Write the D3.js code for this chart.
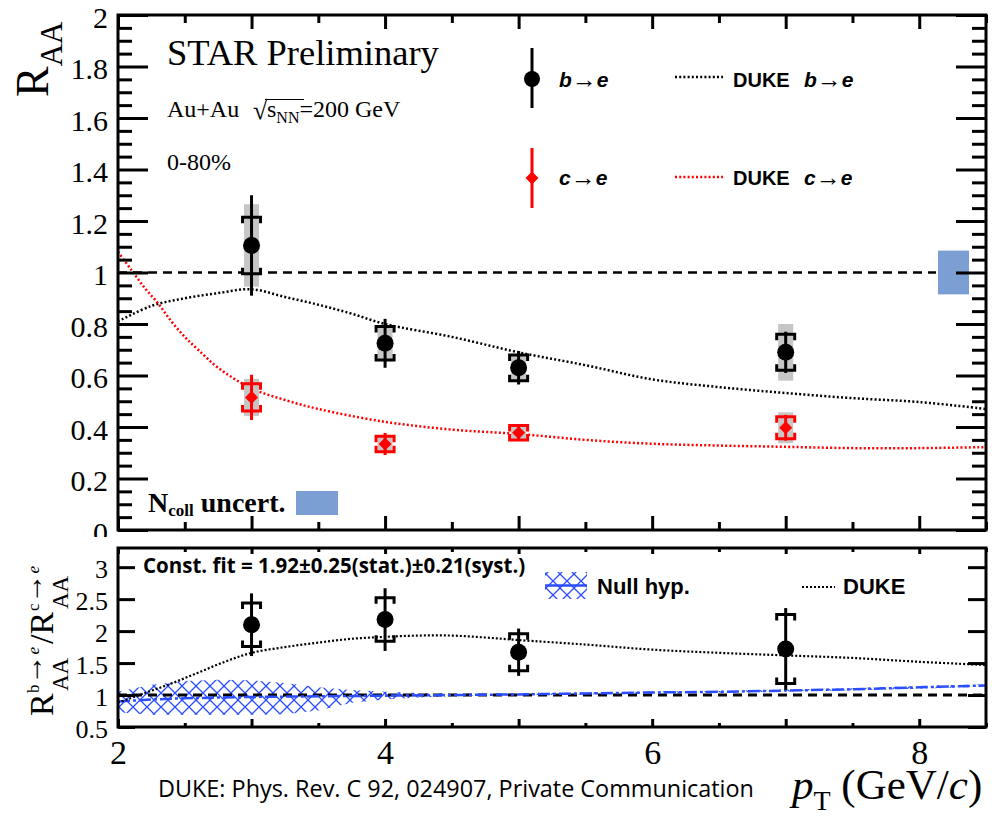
<!DOCTYPE html>
<html><head><meta charset="utf-8">
<script src="https://cdn.jsdelivr.net/npm/d3@7"></script>
<style>body{margin:0;background:#fff}svg{display:block}</style>
</head><body>
<script>
// ---------------- data ----------------
const pT = [3, 4, 5, 7];
const bRaa = [1.105, 0.725, 0.63, 0.69];
const bStat = [0.195, 0.095, 0.065, 0.08];
const bSyst = [0.11, 0.065, 0.05, 0.07];
const bGlobal = [0.16, 0.07, 0.05, 0.11];
const cRaa = [0.515, 0.334, 0.378, 0.397];
const cStat = [0.088, 0.043, 0.03, 0.05];
const cSyst = [0.053, 0.03, 0.028, 0.043];
const cGlobal = [0.072, 0.03, 0.028, 0.06];
const ratio = [2.10, 2.18, 1.67, 1.72];
const ratioStat = [0.49, 0.49, 0.37, 0.64];
const ratioSyst = [0.34, 0.34, 0.29, 0.54];
const ncollUnc = 0.085;

const dukeBPt = [2.0, 2.25, 2.5, 2.75, 3.0, 3.25, 3.5, 3.75, 4.0, 4.5, 5.0, 5.5, 6.0, 6.5, 7.0, 7.5, 8.0, 8.5];
const dukeB = [0.81, 0.87, 0.90, 0.92, 0.935, 0.905, 0.875, 0.84, 0.80, 0.75, 0.69, 0.64, 0.585, 0.555, 0.532, 0.512, 0.497, 0.47];
const dukeCPt = [2.0, 2.1, 2.2, 2.3, 2.4, 2.5, 2.6, 2.75, 3.0, 3.25, 3.5, 4.0, 4.5, 5.0, 5.5, 6.0, 6.5, 7.0, 7.5, 8.0, 8.5];
const dukeC = [1.08, 1.01, 0.94, 0.88, 0.81, 0.75, 0.70, 0.63, 0.55, 0.505, 0.47, 0.42, 0.39, 0.373, 0.35, 0.335, 0.328, 0.323, 0.318, 0.318, 0.322];
const dukeRPt = [2.0, 2.2, 2.4, 2.6, 2.8, 3.0, 3.25, 3.5, 3.75, 4.0, 4.25, 4.5, 4.75, 5.0, 5.5, 6.0, 6.5, 7.0, 7.5, 8.0, 8.5];
const dukeR = [0.88, 1.03, 1.18, 1.35, 1.52, 1.66, 1.75, 1.82, 1.88, 1.91, 1.93, 1.93, 1.90, 1.86, 1.79, 1.71, 1.66, 1.62, 1.58, 1.52, 1.47];

const nullPt = [2.0, 2.25, 2.5, 2.75, 3.0, 3.25, 3.5, 3.75, 4.0, 4.25, 4.5, 5.0, 5.5, 6.0, 6.5, 7.0, 7.5, 8.0, 8.5];
const nullCen = [0.90, 0.93, 0.95, 0.96, 0.97, 0.975, 0.98, 0.985, 0.99, 0.995, 1.0, 1.01, 1.025, 1.04, 1.05, 1.07, 1.09, 1.12, 1.15];
const nullLo = [0.73, 0.69, 0.69, 0.69, 0.69, 0.70, 0.76, 0.88, 0.93, 0.96, 0.98, 0.995, 1.01, 1.025, 1.035, 1.055, 1.075, 1.10, 1.13];
const nullHi = [1.05, 1.16, 1.22, 1.24, 1.23, 1.19, 1.12, 1.08, 1.05, 1.03, 1.02, 1.025, 1.04, 1.055, 1.065, 1.085, 1.105, 1.14, 1.17];

const yTopMajor = [0, 0.2, 0.4, 0.6, 0.8, 1, 1.2, 1.4, 1.6, 1.8, 2];
const yTopLabels = ["0", "0.2", "0.4", "0.6", "0.8", "1", "1.2", "1.4", "1.6", "1.8", "2"];
const yBotMajor = [0.5, 1, 1.5, 2, 2.5, 3];
const yBotLabels = ["0.5", "1", "1.5", "2", "2.5", "3"];
const xMajor = [2, 3, 4, 5, 6, 7, 8];
const xMinor = [2.5, 3.5, 4.5, 5.5, 6.5, 7.5, 8.5];
const xLabelVals = [2, 4, 6, 8];
const xLabels = ["2", "4", "6", "8"];

// ---------------- setup ----------------
const W = 992, H = 817;
const svg = d3.select('body').append('svg').attr('width', W).attr('height', H);
svg.append('rect').attr('width', W).attr('height', H).attr('fill', '#fff');

const SERIF = 'Liberation Serif, Times New Roman, serif';
const SANS = 'Liberation Sans, Arial, sans-serif';
const CAL = 'Open Sans, Lato, sans-serif';
const RED = '#ff0000', BLUE_BOX = '#7b9fd3', HATCH = '#2a4dff', GREY = '#c6c6c6';

const x = d3.scaleLinear().domain([2, 8.5]).range([118, 986]);
const yT = d3.scaleLinear().domain([0, 2]).range([530, 15]);
const yB = d3.scaleLinear().domain([0.5, 3.3]).range([727, 548]);

const defs = svg.append('defs');
const pat = defs.append('pattern').attr('id', 'hatch').attr('patternUnits', 'userSpaceOnUse')
  .attr('width', 14).attr('height', 14);
pat.append('path').attr('d', 'M0,0L14,14M14,0L0,14').attr('stroke', HATCH).attr('stroke-width', 1.3).attr('fill', 'none');
defs.append('clipPath').attr('id', 'clipTop').append('rect').attr('x', 118).attr('y', 15).attr('width', 868).attr('height', 515);
defs.append('clipPath').attr('id', 'clipBot').append('rect').attr('x', 118).attr('y', 548).attr('width', 868).attr('height', 179);

function styleAxis(g, fs) {
  g.select('.domain').remove();
  g.selectAll('.tick line').attr('stroke', '#000').attr('stroke-width', 3);
  g.selectAll('.tick text').attr('font-family', SERIF).attr('font-size', fs || 10).attr('fill', '#000');
}
const diamond = d3.symbol(d3.symbolSquare, 85);

// ================= TOP PANEL =================
const topG = svg.append('g');
const topPlot = topG.append('g').attr('clip-path', 'url(#clipTop)');

// Ncoll box at R=1 (right)
topG.append('rect').attr('x', 938).attr('width', 31)
  .attr('y', yT(1 + ncollUnc)).attr('height', yT(1 - ncollUnc) - yT(1 + ncollUnc)).attr('fill', BLUE_BOX);

// dashed unity line
topPlot.append('line').attr('x1', x(2)).attr('x2', 936).attr('y1', yT(1)).attr('y2', yT(1))
  .attr('stroke', '#000').attr('stroke-width', 2.5).attr('stroke-dasharray', '9,6');

// DUKE curves
const lineB = d3.line().x((d, i) => x(dukeBPt[i])).y(d => yT(d)).curve(d3.curveCatmullRom);
const lineC = d3.line().x((d, i) => x(dukeCPt[i])).y(d => yT(d)).curve(d3.curveCatmullRom);
topPlot.append('path').attr('d', lineB(dukeB)).attr('fill', 'none').attr('stroke', '#000')
  .attr('stroke-width', 2.5).attr('stroke-dasharray', '2,2.2');
topPlot.append('path').attr('d', lineC(dukeC)).attr('fill', 'none').attr('stroke', RED)
  .attr('stroke-width', 2.5).attr('stroke-dasharray', '2,2.2');

function drawPoints(g, ys, stat, syst, glob, yScale, color, marker) {
  const idx = d3.range(pT.length);
  if (glob) {
    g.selectAll(null).data(idx).enter().append('rect')
      .attr('x', i => x(pT[i]) - 7.5).attr('width', 15)
      .attr('y', i => yScale(ys[i] + glob[i])).attr('height', i => yScale(ys[i] - glob[i]) - yScale(ys[i] + glob[i]))
      .attr('fill', GREY);
  }
  // syst brackets
  g.selectAll(null).data(idx).enter().append('path')
    .attr('d', i => {
      const cx = x(pT[i]), t = yScale(ys[i] + syst[i]), b = yScale(ys[i] - syst[i]);
      const leg = Math.min(6, (b - t) / 2), hw = 9;
      return `M${cx - hw},${t + leg}V${t}H${cx + hw}V${t + leg}M${cx - hw},${b - leg}V${b}H${cx + hw}V${b - leg}`;
    })
    .attr('fill', 'none').attr('stroke', color).attr('stroke-width', 3);
  // stat bars
  g.selectAll(null).data(idx).enter().append('line')
    .attr('x1', i => x(pT[i])).attr('x2', i => x(pT[i]))
    .attr('y1', i => yScale(ys[i] + stat[i])).attr('y2', i => yScale(ys[i] - stat[i]))
    .attr('stroke', color).attr('stroke-width', 3);
  // markers
  if (marker === 'circle') {
    g.selectAll(null).data(idx).enter().append('circle')
      .attr('cx', i => x(pT[i])).attr('cy', i => yScale(ys[i])).attr('r', 8.5).attr('fill', color);
  } else {
    g.selectAll(null).data(idx).enter().append('path')
      .attr('d', diamond)
      .attr('transform', i => `translate(${x(pT[i])},${yScale(ys[i])}) rotate(45)`).attr('fill', color);
  }
}
drawPoints(topG, cRaa, cStat, cSyst, cGlobal, yT, RED, 'diamond');
drawPoints(topG, bRaa, bStat, bSyst, bGlobal, yT, '#000', 'circle');

// axes top panel
const yTopMinor = d3.range(0, 2.0001, 0.05).filter(v => Math.abs(v / 0.2 - Math.round(v / 0.2)) > 1e-6);
topG.append('g').attr('transform', 'translate(118,0)')
  .call(d3.axisLeft(yT).tickValues(yTopMajor).tickSize(-30).tickPadding(10).tickFormat((d, i) => yTopLabels[i]))
  .call(g => styleAxis(g, 30)).call(g => g.selectAll('.tick text').attr('dy', '0.4em'));
topG.append('g').attr('transform', 'translate(118,0)')
  .call(d3.axisLeft(yT).tickValues(yTopMinor).tickSize(-14).tickFormat(''))
  .call(g => styleAxis(g));
topG.append('g').attr('transform', 'translate(986,0)')
  .call(d3.axisRight(yT).tickValues(yTopMajor).tickSize(-30).tickFormat(''))
  .call(g => styleAxis(g));
topG.append('g').attr('transform', 'translate(986,0)')
  .call(d3.axisRight(yT).tickValues(yTopMinor).tickSize(-14).tickFormat(''))
  .call(g => styleAxis(g));
topG.append('g').attr('transform', 'translate(0,15)')
  .call(d3.axisBottom(x).tickValues(xMajor).tickSize(14).tickFormat('')).call(g => styleAxis(g));
topG.append('g').attr('transform', 'translate(0,15)')
  .call(d3.axisBottom(x).tickValues(xMinor).tickSize(8).tickFormat('')).call(g => styleAxis(g));
topG.append('g').attr('transform', 'translate(0,530)')
  .call(d3.axisTop(x).tickValues(xMajor).tickSize(14).tickFormat('')).call(g => styleAxis(g));
topG.append('g').attr('transform', 'translate(0,530)')
  .call(d3.axisTop(x).tickValues(xMinor).tickSize(8).tickFormat('')).call(g => styleAxis(g));
topG.append('rect').attr('x', 118).attr('y', 15).attr('width', 868).attr('height', 515)
  .attr('fill', 'none').attr('stroke', '#000').attr('stroke-width', 3);

// y title top
const rt = topG.append('text').attr('transform', 'translate(48,97) rotate(-90)').attr('font-family', SERIF).attr('fill', '#000');
rt.append('tspan').attr('font-size', 46).text('R');
rt.append('tspan').attr('font-size', 31).attr('dy', 14).text('AA');

// annotations
topG.append('text').attr('x', 167).attr('y', 65).attr('font-family', SERIF).attr('font-size', 36.5).text('STAR Preliminary');
topG.append('text').attr('x', 167).attr('y', 117).attr('font-family', SERIF).attr('font-size', 24).text('Au+Au');
topG.append('text').attr('x', 253).attr('y', 119).attr('font-family', SERIF).attr('font-size', 26).text('√');
topG.append('line').attr('x1', 265).attr('x2', 304).attr('y1', 99.5).attr('y2', 99.5).attr('stroke', '#000').attr('stroke-width', 1.2);
const sn = topG.append('text').attr('x', 267).attr('y', 117).attr('font-family', SERIF).attr('font-size', 24);
sn.append('tspan').text('s');
sn.append('tspan').attr('font-size', 16).attr('dy', 6).text('NN');
sn.append('tspan').attr('dy', -6).text('=200 GeV');
topG.append('text').attr('x', 167).attr('y', 170).attr('font-family', SERIF).attr('font-size', 24).text('0-80%');

// legend top
topG.append('line').attr('x1', 532).attr('x2', 532).attr('y1', 48).attr('y2', 108).attr('stroke', '#000').attr('stroke-width', 3);
topG.append('circle').attr('cx', 532).attr('cy', 79).attr('r', 8).attr('fill', '#000');
topG.append('line').attr('x1', 532).attr('x2', 532).attr('y1', 148).attr('y2', 208).attr('stroke', RED).attr('stroke-width', 3);
topG.append('path').attr('d', diamond).attr('transform', 'translate(532,178) rotate(45)').attr('fill', RED);
function legText(xp, yp, duke, from) {
  const t = topG.append('text').attr('x', xp).attr('y', yp).attr('font-family', SANS).attr('font-weight', 'bold').attr('font-size', 20).attr('fill', '#000');
  if (duke) t.append('tspan').text('DUKE');
  t.append('tspan').attr('x', duke ? xp + 71 : xp).attr('font-style', 'italic').attr('font-size', 21).text(from);
  t.append('tspan').attr('font-weight', 'normal').attr('font-size', 25).attr('dy', 1).text('→');
  t.append('tspan').attr('font-style', 'italic').attr('font-size', 21).attr('dy', -1).text('e');
}
legText(559, 87, false, 'b');
legText(559, 185, false, 'c');
legText(733, 87, true, 'b');
legText(733, 185, true, 'c');
topG.append('line').attr('x1', 675).attr('x2', 723).attr('y1', 77).attr('y2', 77).attr('stroke', '#000').attr('stroke-width', 2.5).attr('stroke-dasharray', '2,2.2');
topG.append('line').attr('x1', 675).attr('x2', 723).attr('y1', 177).attr('y2', 177).attr('stroke', RED).attr('stroke-width', 2.5).attr('stroke-dasharray', '2,2.2');

// Ncoll uncert
const nc = topG.append('text').attr('x', 148).attr('y', 512).attr('font-family', SERIF).attr('font-weight', 'bold').attr('font-size', 28);
nc.append('tspan').text('N');
nc.append('tspan').attr('font-size', 17).attr('dy', 4).text('coll');
nc.append('tspan').attr('dy', -4).text(' uncert.');
topG.append('rect').attr('x', 296).attr('y', 491).attr('width', 42).attr('height', 24).attr('fill', BLUE_BOX);

// ================= BOTTOM PANEL =================
const bot = svg.append('g');
bot.append('rect').attr('x', 0).attr('y', 537).attr('width', W).attr('height', H - 537).attr('fill', '#fff');
const botPlot = bot.append('g').attr('clip-path', 'url(#clipBot)');

const band = d3.area().x((d, i) => x(nullPt[i])).y0((d, i) => yB(nullLo[i])).y1(d => yB(d));
botPlot.append('path').attr('d', band(nullHi)).attr('fill', 'url(#hatch)');
botPlot.append('line').attr('x1', x(2)).attr('x2', x(8.5)).attr('y1', yB(1)).attr('y2', yB(1))
  .attr('stroke', '#000').attr('stroke-width', 3).attr('stroke-dasharray', '9,6');
const nullLine = d3.line().x((d, i) => x(nullPt[i])).y(d => yB(d));
botPlot.append('path').attr('d', nullLine(nullCen)).attr('fill', 'none').attr('stroke', HATCH)
  .attr('stroke-width', 2.5).attr('stroke-dasharray', '12,3,3,3');
const lineR = d3.line().x((d, i) => x(dukeRPt[i])).y(d => yB(d)).curve(d3.curveCatmullRom);
botPlot.append('path').attr('d', lineR(dukeR)).attr('fill', 'none').attr('stroke', '#000')
  .attr('stroke-width', 2.2).attr('stroke-dasharray', '2,2');

drawPoints(bot, ratio, ratioStat, ratioSyst, null, yB, '#000', 'circle');

// axes bottom
bot.append('g').attr('transform', 'translate(118,0)')
  .call(d3.axisLeft(yB).tickValues(yBotMajor).tickSize(-17).tickPadding(10).tickFormat((d, i) => yBotLabels[i]))
  .call(g => styleAxis(g, 26)).call(g => g.selectAll('.tick text').attr('dy', '0.4em'));
bot.append('g').attr('transform', 'translate(986,0)')
  .call(d3.axisRight(yB).tickValues(yBotMajor).tickSize(-18).tickFormat('')).call(g => styleAxis(g));
bot.append('g').attr('transform', 'translate(0,548)')
  .call(d3.axisBottom(x).tickValues(xMajor).tickSize(6).tickFormat('')).call(g => styleAxis(g));
bot.append('g').attr('transform', 'translate(0,548)')
  .call(d3.axisBottom(x).tickValues(xMinor).tickSize(4).tickFormat('')).call(g => styleAxis(g));
bot.append('g').attr('transform', 'translate(0,727)')
  .call(d3.axisTop(x).tickValues(xMajor).tickSize(8).tickFormat('')).call(g => styleAxis(g));
bot.append('g').attr('transform', 'translate(0,727)')
  .call(d3.axisTop(x).tickValues(xMinor).tickSize(4).tickFormat('')).call(g => styleAxis(g));
bot.append('g').attr('transform', 'translate(0,727)')
  .call(d3.axisBottom(x).tickValues(xLabelVals).tickSize(0).tickPadding(13).tickFormat((d, i) => xLabels[i]))
  .call(g => styleAxis(g, 34));
bot.append('rect').attr('x', 118).attr('y', 548).attr('width', 868).attr('height', 179)
  .attr('fill', 'none').attr('stroke', '#000').attr('stroke-width', 3);

// y title bottom
const rb = bot.append('text').attr('transform', 'translate(53,716) rotate(-90)').attr('font-family', SERIF).attr('fill', '#000');
function supArrow(x0, letter) {
  rb.append('tspan').attr('x', x0).attr('y', -14).attr('font-size', 17).text(letter);
  rb.append('tspan').attr('y', -11).attr('font-size', 30).text('→');
  rb.append('tspan').attr('y', -14).attr('font-size', 17).attr('font-style', 'italic').text('e');
}
rb.append('tspan').attr('x', 0).attr('y', 0).attr('font-size', 34).text('R');
supArrow(23, 'b');
rb.append('tspan').attr('x', 25).attr('y', 15).attr('font-size', 23).text('AA');
rb.append('tspan').attr('x', 72).attr('y', 0).attr('font-size', 34).text('/R');
supArrow(105, 'c');
rb.append('tspan').attr('x', 107).attr('y', 15).attr('font-size', 23).text('AA');

// bottom legend
bot.append('text').attr('x', 143).attr('y', 573).attr('font-family', CAL).attr('font-weight', 'bold')
  .attr('font-size', 20.5).text('Const. fit = 1.92±0.25(stat.)±0.21(syst.)');
bot.append('rect').attr('x', 545).attr('y', 572).attr('width', 42).attr('height', 27).attr('fill', 'url(#hatch)');
bot.append('line').attr('x1', 545).attr('x2', 587).attr('y1', 585.5).attr('y2', 585.5).attr('stroke', HATCH).attr('stroke-width', 2.5);
bot.append('text').attr('x', 597).attr('y', 594).attr('font-family', SANS).attr('font-weight', 'bold').attr('font-size', 22).text('Null hyp.');
bot.append('line').attr('x1', 802).attr('x2', 835).attr('y1', 587).attr('y2', 587).attr('stroke', '#000').attr('stroke-width', 2.2).attr('stroke-dasharray', '2,2');
bot.append('text').attr('x', 843).attr('y', 594).attr('font-family', SANS).attr('font-weight', 'bold').attr('font-size', 22).text('DUKE');

// footer + x title
bot.append('text').attr('x', 158).attr('y', 797).attr('font-family', CAL).attr('font-size', 23.4)
  .text('DUKE: Phys. Rev. C 92, 024907, Private Communication');
const xt = bot.append('text').attr('x', 792).attr('y', 799).attr('font-family', SERIF).attr('font-size', 43).attr('fill', '#000');
xt.append('tspan').attr('font-style', 'italic').text('p');
xt.append('tspan').attr('font-size', 28).attr('dy', 11).text('T');
xt.append('tspan').attr('dy', -11).text(' (GeV/');
xt.append('tspan').attr('font-style', 'italic').text('c');
xt.append('tspan').text(')');
</script>
</body></html>
